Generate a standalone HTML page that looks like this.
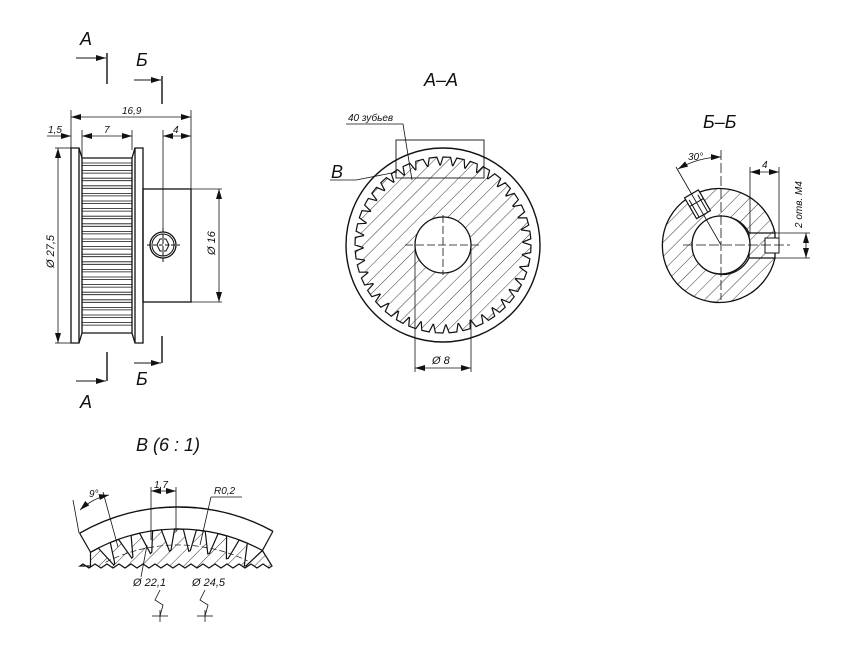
<!DOCTYPE html>
<html><head><meta charset="utf-8"><style>
html,body{margin:0;padding:0;background:#fff;}
svg{display:block}
text{font-family:"Liberation Sans",sans-serif;font-style:italic;fill:#111}
</style></head><body>
<svg id="s" width="866" height="650" viewBox="0 0 866 650" xmlns="http://www.w3.org/2000/svg" stroke="#111" fill="none" stroke-width="1">
<defs>
<pattern id="h" patternUnits="userSpaceOnUse" width="10" height="10" patternTransform="rotate(45)">
<line x1="0" y1="0" x2="0" y2="10" stroke="#222" stroke-width="0.9"/>
</pattern>
<marker id="ar" viewBox="0 0 10 6" refX="10" refY="3" markerWidth="10" markerHeight="6" orient="auto-start-reverse" markerUnits="userSpaceOnUse"><path d="M0,0 L10,3 L0,6 Z" fill="#111" stroke="none"/></marker>
</defs>

<text x="80" y="45" font-size="18" stroke="none">А</text>
<line x1="76" y1="58" x2="106" y2="58" marker-end="url(#ar)"/>
<line x1="107" y1="53" x2="107" y2="84" stroke-width="1.4"/>
<text x="136" y="66" font-size="18" stroke="none">Б</text>
<line x1="134" y1="80" x2="161" y2="80" marker-end="url(#ar)"/>
<line x1="162" y1="76" x2="162" y2="104" stroke-width="1.4"/>
<line x1="107" y1="352" x2="107" y2="381" stroke-width="1.4"/>
<line x1="76" y1="381" x2="106" y2="381" marker-end="url(#ar)"/>
<text x="80" y="408" font-size="18" stroke="none">А</text>
<line x1="162" y1="336" x2="162" y2="363" stroke-width="1.4"/>
<line x1="134" y1="363" x2="161" y2="363" marker-end="url(#ar)"/>
<text x="136" y="385" font-size="18" stroke="none">Б</text>

<g stroke-width="1.3">
<path d="M71,148 H79 L82,158 V333 L79,343 H71 Z"/>
<path d="M143,148 H135 L132,158 V333 L135,343 H143 Z"/>
<line x1="79" y1="148" x2="79" y2="343"/>
<line x1="135" y1="148" x2="135" y2="343"/>
<rect x="143" y="189" width="48" height="113"/>
<line x1="82" y1="158" x2="132" y2="158"/>
<line x1="82" y1="333" x2="132" y2="333"/>
</g>
<g id="lteeth" stroke-width="0.8"></g>
<circle cx="163" cy="245" r="13" stroke-width="1.3"/>
<circle cx="163" cy="245" r="11"/>
<path d="M157,245 L160,239 H166 L169,245 L166,251 H160 Z"/>
<line x1="147" y1="245" x2="180" y2="245" stroke-dasharray="4,2"/>
<line x1="163" y1="228" x2="163" y2="262" stroke-dasharray="4,2"/>
<g stroke-width="0.8">
<line x1="71" y1="110" x2="71" y2="148"/><line x1="191" y1="110" x2="191" y2="189"/>
<line x1="71" y1="117" x2="191" y2="117" marker-start="url(#ar)" marker-end="url(#ar)"/>
<line x1="82" y1="130" x2="82" y2="158"/><line x1="132" y1="130" x2="132" y2="150"/>
<line x1="82" y1="136" x2="132" y2="136" marker-start="url(#ar)" marker-end="url(#ar)"/>
<line x1="47" y1="136" x2="71" y2="136" marker-end="url(#ar)"/>
<line x1="163" y1="130" x2="163" y2="232"/>
<line x1="163" y1="136" x2="191" y2="136" marker-start="url(#ar)" marker-end="url(#ar)"/>
<line x1="55" y1="148" x2="71" y2="148"/><line x1="55" y1="343" x2="71" y2="343"/>
<line x1="58" y1="148" x2="58" y2="343" marker-start="url(#ar)" marker-end="url(#ar)"/>
<line x1="191" y1="189" x2="222" y2="189"/><line x1="191" y1="302" x2="222" y2="302"/>
<line x1="219" y1="189" x2="219" y2="302" marker-start="url(#ar)" marker-end="url(#ar)"/>
</g>
<text x="122" y="114" font-size="10" stroke="none">16,9</text>
<text x="48" y="133" font-size="10" stroke="none">1,5</text>
<text x="104" y="133" font-size="10" stroke="none">7</text>
<text x="173" y="133" font-size="10" stroke="none">4</text>
<text transform="translate(54,268) rotate(-90)" font-size="11" stroke="none">Ø 27,5</text>
<text transform="translate(215,255) rotate(-90)" font-size="11" stroke="none">Ø 16</text>

<text x="424" y="86" font-size="18" stroke="none">А–А</text>
<circle cx="443" cy="245" r="97" stroke-width="1.4"/>
<path id="gear" fill="url(#h)" stroke-width="1.2"/>
<circle cx="443" cy="245" r="28" fill="#fff" stroke-width="1.3"/>
<line x1="405" y1="245" x2="481" y2="245" stroke-dasharray="8,3" stroke-width="0.8"/>
<line x1="443" y1="215" x2="443" y2="275" stroke-dasharray="8,3" stroke-width="0.8"/>
<rect x="396" y="140" width="88" height="38" stroke-width="0.9"/>
<line x1="415" y1="245" x2="415" y2="372" stroke-width="0.8"/>
<line x1="471" y1="245" x2="471" y2="372" stroke-width="0.8"/>
<line x1="415" y1="368" x2="471" y2="368" stroke-width="0.8" marker-start="url(#ar)" marker-end="url(#ar)"/>
<text x="432" y="364" font-size="11" stroke="none">Ø 8</text>
<polyline points="346,124 403,124 412,180" stroke-width="0.8"/>
<text x="348" y="121" font-size="10" stroke="none">40 зубьев</text>
<polyline points="330,180 356,180 397,172" stroke-width="0.8"/>
<text x="331" y="178" font-size="18" stroke="none">В</text>

<text x="703" y="128" font-size="18" stroke="none">Б–Б</text>
<path d="M775,233 A57,57 0 1 0 775,258 Z M749,233 A29,29 0 1 0 749,258 Z" fill="url(#h)" fill-rule="evenodd" stroke-width="1.3"/>
<circle cx="721" cy="245" r="29" fill="#fff" stroke-width="1.3"/>
<path d="M749,233 H775 M749,258 H775" stroke-width="1.2"/>
<rect x="765" y="238" width="14" height="15" fill="#fff" stroke-width="1"/>
<g transform="rotate(-30 721 245)">
<rect x="713" y="186" width="16" height="24" fill="#fff" stroke-width="1.2"/>
<line x1="716" y1="190" x2="716" y2="210"/>
<line x1="726" y1="190" x2="726" y2="210"/>
<line x1="713" y1="196" x2="729" y2="196"/>
</g>
<line x1="683" y1="245" x2="790" y2="245" stroke-dasharray="10,3" stroke-width="0.8"/>
<line x1="721" y1="150" x2="721" y2="300" stroke-dasharray="10,3" stroke-width="0.8"/>
<line x1="721" y1="245" x2="676" y2="167" stroke-width="0.8"/>
<path d="M678,169 A88,88 0 0 1 721,157" stroke-width="0.8" marker-start="url(#ar)" marker-end="url(#ar)"/>
<text x="688" y="160" font-size="10" stroke="none">30°</text>
<line x1="750" y1="167" x2="750" y2="233" stroke-width="0.8"/>
<line x1="779" y1="167" x2="779" y2="240" stroke-width="0.8"/>
<line x1="750" y1="172" x2="779" y2="172" stroke-width="0.8" marker-start="url(#ar)" marker-end="url(#ar)"/>
<text x="762" y="168" font-size="10" stroke="none">4</text>
<line x1="775" y1="233" x2="810" y2="233" stroke-width="0.8"/>
<line x1="775" y1="258" x2="810" y2="258" stroke-width="0.8"/>
<line x1="806" y1="233" x2="806" y2="258" stroke-width="0.8" marker-start="url(#ar)" marker-end="url(#ar)"/>
<text transform="translate(802,228) rotate(-90)" font-size="10" stroke="none">2 отв. М4</text>

<text x="136" y="451" font-size="18" stroke="none">В  (6 : 1)</text>
<g id="vb"></g>
<text x="154" y="488" font-size="10" stroke="none">1,7</text>
<text x="214" y="494" font-size="10" stroke="none">R0,2</text>
<text x="89" y="497" font-size="10" stroke="none">9°</text>
<text x="133" y="586" font-size="11" stroke="none">Ø 22,1</text>
<text x="192" y="586" font-size="11" stroke="none">Ø 24,5</text>
<g stroke-width="0.8">
<line x1="151" y1="487" x2="151" y2="540"/><line x1="176" y1="487" x2="176" y2="532"/>
<line x1="151" y1="491" x2="176" y2="491" marker-start="url(#ar)" marker-end="url(#ar)"/>
<line x1="211" y1="497" x2="242" y2="497"/><line x1="211" y1="497" x2="200" y2="545"/>
<line x1="79" y1="533" x2="73" y2="500"/><line x1="118" y1="547" x2="103" y2="492"/>
<path d="M80,510 A60,60 0 0 1 109,495" marker-start="url(#ar)" marker-end="url(#ar)"/>
<line x1="141" y1="577" x2="147" y2="545"/>
<polyline points="160,590 155,600 163,605 160,616"/><line x1="152" y1="616" x2="168" y2="616"/><line x1="160" y1="610" x2="160" y2="622"/>
<polyline points="205,590 200,600 208,605 205,616"/><line x1="197" y1="616" x2="213" y2="616"/><line x1="205" y1="610" x2="205" y2="622"/>
</g>
</svg>
<script>
var NS="http://www.w3.org/2000/svg";
function el(p,t,a){var e=document.createElementNS(NS,t);for(var k in a)e.setAttribute(k,a[k]);p.appendChild(e);return e;}
var lt=document.getElementById("lteeth");
for(var y=163;y<330;y+=7.6){el(lt,"line",{x1:82,y1:y,x2:132,y2:y});el(lt,"line",{x1:82,y1:y+2.5,x2:132,y2:y+2.5});}
var cx=443,cy=245,ro=88,ri=80,n=40,d="";
for(var i=0;i<n;i++){var a0=i*2*Math.PI/n;var w=2*Math.PI/n;
var pts=[[ro,a0],[ro,a0+w*0.55],[ri,a0+w*0.75],[ri,a0+w*0.8]];
pts.forEach(function(p,j){var x=cx+p[0]*Math.cos(p[1]),y=cy+p[0]*Math.sin(p[1]);d+=(i==0&&j==0?"M":"L")+x.toFixed(1)+","+y.toFixed(1);});}
d+="Z";document.getElementById("gear").setAttribute("d",d);
var g=document.getElementById("vb");var X=178,Y=705;
function P(r,a){return [X+r*Math.sin(a),Y-r*Math.cos(a)];}
var A1=-0.52,A2=0.5;
function arc(r,a1,a2){var p1=P(r,a1),p2=P(r,a2);return "M"+p1[0].toFixed(1)+","+p1[1].toFixed(1)+" A"+r+","+r+" 0 0 1 "+p2[0].toFixed(1)+","+p2[1].toFixed(1);}
var rt=176,rr=154,pitch=0.125,hd="";
var N=Math.floor((A2-A1-0.1)/pitch);
for(var k=0;k<=N;k++){var b=A1+k*pitch;var q=[P(rt,b),P(rt,b+0.05),P(rr,b+0.09),P(rr+1,b+0.1)];
q.forEach(function(p,j){hd+=((k==0&&j==0)?"M":"L")+p[0].toFixed(1)+","+p[1].toFixed(1);});}
var pe=P(rt,A2);hd+="L"+pe[0].toFixed(1)+","+pe[1].toFixed(1)+" L272,566 ";
for(var x=272;x>84;x-=6){var up=(Math.round(x/6)%2)?2:-2;hd+="L"+(x-3)+","+(566+up)+" L"+(x-6)+",566 ";}
var ps=P(rt,A1);hd+="L"+ps[0].toFixed(1)+",566 Z";
el(g,"path",{d:hd,fill:"url(#h)","stroke-width":"1.2"});
el(g,"path",{d:arc(198,A1,A2),"stroke-width":"1.4"});
el(g,"path",{d:arc(176,A1,A2),"stroke-width":"1.2"});
el(g,"path",{d:arc(160,A1+0.05,A2-0.05),"stroke-width":"0.7","stroke-dasharray":"6,3"});
var l1=P(198,A1),l2=P(176,A1),r1=P(198,A2),r2=P(176,A2);
el(g,"line",{x1:l1[0],y1:l1[1],x2:l2[0],y2:l2[1],"stroke-width":"1.2"});
el(g,"line",{x1:r1[0],y1:r1[1],x2:r2[0],y2:r2[1],"stroke-width":"1.2"});
</script>
</body></html>
